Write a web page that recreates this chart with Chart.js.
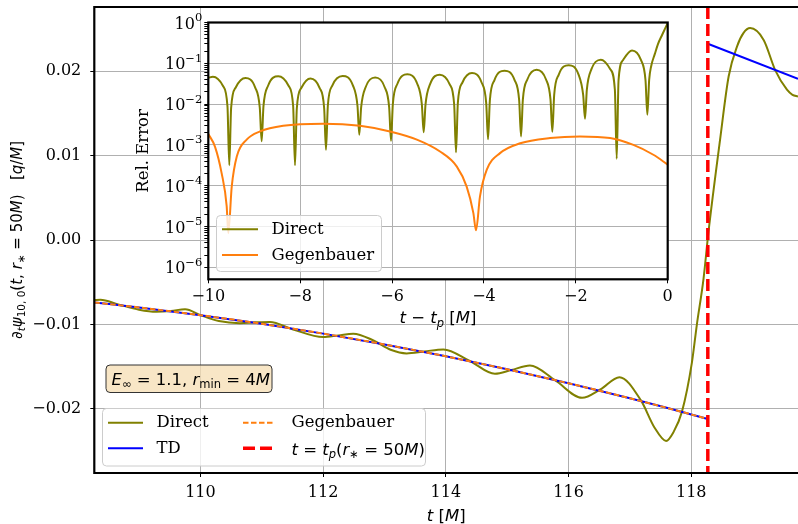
<!DOCTYPE html>
<html>
<head>
<meta charset="utf-8">
<script src="https://cdn.jsdelivr.net/npm/chart.js@4.4.1/dist/chart.umd.min.js"></script>
<style>
  html, body { margin: 0; padding: 0; background: #fff; }
  #wrap { position: relative; width: 798px; height: 524px; overflow: hidden; }
  #mainChart { position: absolute; left: 0; top: 0; }
  #insetChart { position: absolute; left: 100px; top: 0; }
</style>
</head>
<body>
<div id="wrap">
  <canvas id="mainChart" width="798" height="524"></canvas>
  <canvas id="insetChart" width="600" height="340"></canvas>
</div>
<script>
// main panel: d/dt psi at r* = 50M
const tP = 118.27;
const directT = [108.27, 108.37, 108.66, 109.0, 109.28, 109.52, 109.75, 110.0, 110.3, 110.64, 110.9, 111.13, 111.51, 112.0, 112.25, 112.49, 112.82, 113.1, 113.36, 113.65, 113.96, 114.39, 114.8, 115.07, 115.37, 115.78, 116.22, 116.52, 116.83, 117.18, 117.4, 117.59, 117.71, 117.85, 118.01, 118.09, 118.2, 118.28, 118.47, 118.61, 118.75, 118.85, 118.96, 119.18, 119.37, 119.56, 119.65, 119.74];
const directVals = [-0.00712, -0.00708, -0.00763, -0.00825, -0.00849, -0.0084, -0.0082, -0.0089, -0.0096, -0.00985, -0.00975, -0.0097, -0.0106, -0.0115, -0.0113, -0.0111, -0.0119, -0.0130, -0.01343, -0.0132, -0.01296, -0.01433, -0.01585, -0.0154, -0.01487, -0.0166, -0.0187, -0.0177, -0.01625, -0.0190, -0.0222, -0.0238, -0.02277, -0.0203, -0.01455, -0.0101, -0.0046, 0.0009, 0.0119, 0.0194, 0.0230, 0.0245, 0.0251, 0.0237, 0.0201, 0.0178, 0.0172, 0.0170];
const tdT = [108.27, 109, 110, 111, 112, 113, 114, 115, 116, 117, 117.6, 118, 118.27];
const tdVals = [-0.0074, -0.00799, -0.0089, -0.00993, -0.01109, -0.01237, -0.01378, -0.01532, -0.01697, -0.01875, -0.01988, -0.02066, -0.0212];
const tdPostT = [118.27, 119.74];
const tdPostVals = [0.02325, 0.0191];
const gegVals = [-0.0074, -0.00799, -0.0089, -0.00993, -0.01109, -0.01237, -0.01378, -0.01532, -0.01697, -0.01875, -0.01988, -0.02066, -0.0212];
const mainXTicks = [110, 112, 114, 116, 118];
const mainYTicks = [-0.02, -0.01, 0, 0.01, 0.02];
const mainXRange = [108.27, 119.74];
const mainYRange = [-0.0276, 0.0276];

// inset: relative error vs t - tp
const relT = [-10, -9.9, -9.683, -9.583, -9.543,
  -9.503, -9.403, -9.191, -8.979, -8.879, -8.839,
  -8.799, -8.699, -8.476, -8.253, -8.153, -8.113,
  -8.073, -7.973, -7.776, -7.578, -7.478, -7.438,
  -7.398, -7.298, -7.076, -6.853, -6.753, -6.713,
  -6.673, -6.573, -6.368, -6.163, -6.063, -6.023,
  -5.983, -5.883, -5.668, -5.452, -5.352, -5.312,
  -5.272, -5.172, -4.960, -4.748, -4.648, -4.608,
  -4.568, -4.468, -4.260, -4.051, -3.951, -3.911,
  -3.871, -3.771, -3.552, -3.333, -3.233, -3.193,
  -3.153, -3.053, -2.852, -2.651, -2.551, -2.511,
  -2.471, -2.371, -2.156, -1.940, -1.840, -1.800,
  -1.760, -1.660, -1.455, -1.250, -1.150, -1.110,
  -1.070, -0.970, -0.777, -0.583, -0.483, -0.443,
  -0.403, -0.36, -0.28, -0.21, -0.12, -0.05, 0];
const relDirect = [0.044, 0.047, 0.0282, 0.0089, 3.2e-4,
  0.00807, 0.0255, 0.0434, 0.0255, 0.00807, 1.23e-3,
  0.00891, 0.0282, 0.0479, 0.0282, 0.00891, 3.16e-4,
  0.00794, 0.0251, 0.0427, 0.0251, 0.00794, 7.6e-4,
  0.00912, 0.0288, 0.049, 0.0288, 0.00912, 1.78e-3,
  0.00832, 0.0263, 0.0447, 0.0263, 0.00832, 1.26e-3,
  0.0100, 0.0316, 0.0537, 0.0316, 0.0100, 2.04e-3,
  0.00977, 0.0309, 0.0525, 0.0309, 0.00977, 6.6e-4,
  0.0107, 0.0339, 0.0575, 0.0339, 0.0107, 1.38e-3,
  0.0123, 0.0389, 0.0661, 0.0389, 0.0123, 1.62e-3,
  0.0129, 0.0407, 0.0692, 0.0407, 0.0129, 2.09e-3,
  0.0168, 0.0531, 0.0902, 0.0531, 0.0168, 4.37e-3,
  0.0227, 0.0718, 0.122, 0.0718, 0.0227, 4.57e-4,
  0.0384, 0.121, 0.206, 0.121, 0.0384, 5.5e-3,
  0.04, 0.085, 0.17, 0.3, 0.5, 0.74, 0.97];
const relGegT = [-10, -9.855, -9.71, -9.6, -9.565, -9.49, -9.38, -9.165, -8.875, -8.37, -7.5, -6.7, -6.045, -5.46, -4.956, -4.59, -4.376, -4.23, -4.173, -4.086, -3.94, -3.65, -3.21, -2.56, -1.91, -1.256, -0.747, -0.312, 0];
const relGeg = [1.86e-3, 9.1e-4, 2.04e-4, 3.16e-5, 6.9e-6, 9.5e-5, 5.2e-4, 1.35e-3, 2.14e-3, 2.95e-3, 3.31e-3, 2.95e-3, 2.14e-3, 1.35e-3, 6.9e-4, 2.95e-4, 9.5e-5, 2.14e-5, 8.1e-6, 5.5e-5, 2.45e-4, 6.3e-4, 1.1e-3, 1.48e-3, 1.62e-3, 1.48e-3, 1.0e-3, 5.75e-4, 3.3e-4];
const insetXTicks = [-10, -8, -6, -4, -2, 0];
const insetDecades = [-6, -5, -4, -3, -2, -1, 0];
const insetYRange = [5.1e-7, 1];

const OLIVE = '#808000', BLUE = '#0000ff', ORANGE = '#ff7f0e', RED = '#ff0000';
const SERIF = '"DejaVu Serif", serif';
const SANS = '"DejaVu Sans", sans-serif';
const mf = (sz, it) => (it ? 'italic ' : '') + sz + 'px ' + SANS;

function pts(xs, ys) { return xs.map((x, i) => ({x: x, y: ys[i]})); }
function minus(s) { return String(s).replace('-', '\u2212'); }

function drawRich(ctx, segs, x, y, align) {
  let w = 0;
  segs.forEach(s => { ctx.font = s.f; w += ctx.measureText(s.t).width; });
  let cx = align === 'center' ? x - w / 2 : (align === 'right' ? x - w : x);
  ctx.textAlign = 'left';
  ctx.textBaseline = 'alphabetic';
  ctx.fillStyle = '#000';
  segs.forEach(s => {
    ctx.font = s.f;
    ctx.fillText(s.t, cx, y + (s.dy || 0));
    cx += ctx.measureText(s.t).width;
  });
}

function roundBox(ctx, x, y, w, h, r, fill, stroke) {
  ctx.beginPath();
  ctx.roundRect(x, y, w, h, r);
  ctx.fillStyle = fill;
  ctx.fill();
  ctx.lineWidth = 1;
  ctx.strokeStyle = stroke;
  ctx.stroke();
}

function legendLine(ctx, x1, x2, y, color, width, dash) {
  ctx.save();
  ctx.beginPath();
  ctx.setLineDash(dash || []);
  ctx.strokeStyle = color;
  ctx.lineWidth = width;
  ctx.moveTo(x1, y);
  ctx.lineTo(x2, y);
  ctx.stroke();
  ctx.restore();
}

const mainDecor = {
  id: 'mainDecor',
  afterDatasetsDraw(chart) {
    const ctx = chart.ctx, a = chart.chartArea;
    ctx.save();
    // frame (right side is cut off)
    ctx.strokeStyle = '#000';
    ctx.lineWidth = 2.2;
    ctx.beginPath();
    ctx.moveTo(a.right + 2, a.top);
    ctx.lineTo(a.left, a.top);
    ctx.lineTo(a.left, a.bottom);
    ctx.lineTo(a.right + 2, a.bottom);
    ctx.stroke();

    // parameter box
    roundBox(ctx, 106, 365, 166, 27.5, 4, 'rgba(245,222,179,0.75)', '#333');
    drawRich(ctx, [
      {t: 'E', f: mf(16.5, true)},
      {t: '\u221e', f: mf(11.5), dy: 3.5},
      {t: ' = 1.1, ', f: mf(16.5)},
      {t: 'r', f: mf(16.5, true)},
      {t: 'min', f: mf(11.5), dy: 3.5},
      {t: ' = 4', f: mf(16.5)},
      {t: 'M', f: mf(16.5, true)}
    ], 111.5, 384.5, 'left');

    // legend
    roundBox(ctx, 102.5, 408.5, 323, 57.5, 4, 'rgba(255,255,255,0.8)', '#cccccc');
    legendLine(ctx, 108, 143, 422.7, OLIVE, 2);
    legendLine(ctx, 108, 143, 448.3, BLUE, 2);
    legendLine(ctx, 243, 275, 422.7, ORANGE, 2, [5.5, 2.5]);
    legendLine(ctx, 243, 275, 448.3, RED, 3.5, [12, 5]);
    ctx.fillStyle = '#000';
    ctx.font = '16.5px ' + SERIF;
    ctx.textAlign = 'left';
    ctx.textBaseline = 'middle';
    ctx.fillText('Direct', 156.5, 423);
    ctx.fillText('TD', 156.5, 448.5);
    ctx.fillText('Gegenbauer', 291.5, 423);
    drawRich(ctx, [
      {t: 't', f: mf(16.5, true)},
      {t: ' = ', f: mf(16.5)},
      {t: 't', f: mf(16.5, true)},
      {t: 'p', f: mf(11.5, true), dy: 3.5},
      {t: '(', f: mf(16.5)},
      {t: 'r', f: mf(16.5, true)},
      {t: '\u2217', f: mf(11.5), dy: 3.5},
      {t: ' = 50', f: mf(16.5)},
      {t: 'M', f: mf(16.5, true)},
      {t: ')', f: mf(16.5)}
    ], 291.5, 454.5, 'left');

    // axis titles
    drawRich(ctx, [
      {t: 't', f: mf(16.5, true)},
      {t: ' [', f: mf(16.5)},
      {t: 'M', f: mf(16.5, true)},
      {t: ']', f: mf(16.5)}
    ], (a.left + 798) / 2, 521, 'center');

    ctx.translate(17, (a.top + a.bottom) / 2);
    ctx.rotate(-Math.PI / 2);
    drawRich(ctx, [
      {t: '\u2202', f: mf(15)},
      {t: 't', f: mf(10.5, true), dy: 3},
      {t: '\u03c8', f: mf(15, true)},
      {t: '10, 0', f: mf(10.5), dy: 3},
      {t: '(', f: mf(15)},
      {t: 't', f: mf(15, true)},
      {t: ', ', f: mf(15)},
      {t: 'r', f: mf(15, true)},
      {t: '\u2217', f: mf(10.5), dy: 3},
      {t: ' = 50', f: mf(15)},
      {t: 'M', f: mf(15, true)},
      {t: ')   [', f: mf(15)},
      {t: 'q', f: mf(15, true)},
      {t: '/', f: mf(15)},
      {t: 'M', f: mf(15, true)},
      {t: ']', f: mf(15)}
    ], 0, 5, 'center');
    ctx.restore();
  }
};

new Chart(document.getElementById('mainChart'), {
  type: 'line',
  data: {
    datasets: [
      {label: 'Direct', data: pts(directT, directVals), borderColor: OLIVE, borderWidth: 2, cubicInterpolationMode: 'monotone', order: 4},
      {label: 'TD', data: pts(tdT, tdVals), borderColor: BLUE, borderWidth: 2, cubicInterpolationMode: 'monotone', order: 3},
      {label: 'TD after', data: pts(tdPostT, tdPostVals), borderColor: BLUE, borderWidth: 2, order: 3},
      {label: 'Gegenbauer', data: pts(tdT, gegVals), borderColor: ORANGE, borderWidth: 2, borderDash: [5.5, 2.5], cubicInterpolationMode: 'monotone', order: 2},
      {label: 'tp', data: [{x: tP, y: mainYRange[1]}, {x: tP, y: mainYRange[0]}], borderColor: RED, borderWidth: 3.5, borderDash: [12, 5], order: 1}
    ]
  },
  options: {
    responsive: false,
    animation: false,
    devicePixelRatio: 1,
    layout: {padding: {left: 0, top: 7, right: 0, bottom: 0}},
    elements: {point: {radius: 0}, line: {fill: false}},
    plugins: {legend: {display: false}, tooltip: {enabled: false}},
    scales: {
      x: {
        type: 'linear', min: mainXRange[0], max: mainXRange[1],
        afterBuildTicks: s => { s.ticks = mainXTicks.map(v => ({value: v})); },
        afterFit: s => { s.height = 51; s.paddingLeft = 0; s.paddingRight = 0; },
        grid: {color: '#b0b0b0', lineWidth: 1, tickColor: '#000', tickLength: 4},
        border: {display: false},
        ticks: {autoSkip: false, maxRotation: 0, padding: 6, color: '#000', font: {family: SERIF, size: 16}, callback: v => String(v)}
      },
      y: {
        type: 'linear', min: mainYRange[0], max: mainYRange[1],
        afterBuildTicks: s => { s.ticks = mainYTicks.map(v => ({value: v})); },
        afterFit: s => { s.width = 94.3; s.paddingTop = 0; s.paddingBottom = 0; },
        grid: {color: '#b0b0b0', lineWidth: 1, tickColor: '#000', tickLength: 4},
        border: {display: false},
        ticks: {autoSkip: false, padding: 9, color: '#000', font: {family: SERIF, size: 16}, callback: v => minus(v.toFixed(2))}
      }
    }
  },
  plugins: [mainDecor]
});

const insetDecor = {
  id: 'insetDecor',
  beforeDraw(chart) {
    const ctx = chart.ctx, a = chart.chartArea;
    ctx.save();
    ctx.fillStyle = '#fff';
    ctx.fillRect(a.left, a.top, a.right - a.left, a.bottom - a.top);
    ctx.restore();
  },
  afterDatasetsDraw(chart) {
    const ctx = chart.ctx, a = chart.chartArea;
    ctx.save();
    ctx.strokeStyle = '#000';
    ctx.lineWidth = 2.2;
    ctx.strokeRect(a.left, a.top, a.right - a.left, a.bottom - a.top);

    // log tick labels 10^n with a raised exponent
    const ys = chart.scales.y;
    insetDecades.forEach(d => {
      const py = ys.getPixelForValue(Math.pow(10, d));
      drawRich(ctx, [
        {t: '10', f: '16px ' + SERIF},
        {t: minus(d), f: '11.5px ' + SERIF, dy: -7.5}
      ], a.left - 6, py + 6, 'right');
    });

    // legend (canvas is offset 100px to the right)
    roundBox(ctx, 116.5, 215.5, 165, 56, 4, 'rgba(255,255,255,0.8)', '#cccccc');
    legendLine(ctx, 122, 158, 229.3, OLIVE, 2);
    legendLine(ctx, 122, 158, 255, ORANGE, 2);
    ctx.fillStyle = '#000';
    ctx.font = '16.5px ' + SERIF;
    ctx.textAlign = 'left';
    ctx.textBaseline = 'middle';
    ctx.fillText('Direct', 171.5, 229.6);
    ctx.fillText('Gegenbauer', 171.5, 255.3);

    // axis titles
    drawRich(ctx, [
      {t: 't', f: mf(16.5, true)},
      {t: ' \u2212 ', f: mf(16.5)},
      {t: 't', f: mf(16.5, true)},
      {t: 'p', f: mf(11.5, true), dy: 3.5},
      {t: ' [', f: mf(16.5)},
      {t: 'M', f: mf(16.5, true)},
      {t: ']', f: mf(16.5)}
    ], (a.left + a.right) / 2, 323, 'center');
    ctx.translate(44, (a.top + a.bottom) / 2);
    ctx.rotate(-Math.PI / 2);
    ctx.font = '16.5px ' + SERIF;
    ctx.textAlign = 'center';
    ctx.textBaseline = 'middle';
    ctx.fillText('Rel. Error', 0, 0);
    ctx.restore();
  }
};

function isMajor(v) { const l = Math.log10(v); return Math.abs(l - Math.round(l)) < 1e-6; }

const insetYTickVals = [];
insetDecades.forEach(d => {
  for (let m = 1; m <= 9; m++) {
    const v = m * Math.pow(10, d);
    if (v >= insetYRange[0] && v <= insetYRange[1] * 1.0001) insetYTickVals.push(v);
  }
});

new Chart(document.getElementById('insetChart'), {
  type: 'line',
  data: {
    datasets: [
      {label: 'Direct', data: pts(relT, relDirect), borderColor: OLIVE, borderWidth: 2, cubicInterpolationMode: 'monotone', order: 2},
      {label: 'Gegenbauer', data: pts(relGegT, relGeg), borderColor: ORANGE, borderWidth: 2, cubicInterpolationMode: 'monotone', order: 1}
    ]
  },
  options: {
    responsive: false,
    animation: false,
    devicePixelRatio: 1,
    layout: {padding: {left: 0, top: 22.5, right: 32.3, bottom: 0}},
    elements: {point: {radius: 0}, line: {fill: false}},
    plugins: {legend: {display: false}, tooltip: {enabled: false}},
    scales: {
      x: {
        type: 'linear', min: -10, max: 0,
        afterBuildTicks: s => { s.ticks = insetXTicks.map(v => ({value: v})); },
        afterFit: s => { s.height = 60.7; s.paddingLeft = 0; s.paddingRight = 0; },
        grid: {color: '#b0b0b0', lineWidth: 1, tickColor: '#000', tickLength: 4},
        border: {display: false},
        ticks: {autoSkip: false, maxRotation: 0, padding: 4, color: '#000', font: {family: SERIF, size: 16}, callback: v => minus(v)}
      },
      y: {
        type: 'logarithmic', min: insetYRange[0], max: insetYRange[1],
        afterBuildTicks: s => { s.ticks = insetYTickVals.map(v => ({value: v, major: isMajor(v)})); },
        afterFit: s => { s.width = 108.3; s.paddingTop = 0; s.paddingBottom = 0; },
        grid: {
          color: c => (c.tick && isMajor(c.tick.value)) ? '#b0b0b0' : 'rgba(0,0,0,0)',
          lineWidth: 1, tickColor: '#000', tickLength: 4
        },
        border: {display: false},
        ticks: {autoSkip: false, padding: 2, color: '#000', font: {family: SERIF, size: 16}, callback: () => ''}
      }
    }
  },
  plugins: [insetDecor]
});
</script>
</body>
</html>
